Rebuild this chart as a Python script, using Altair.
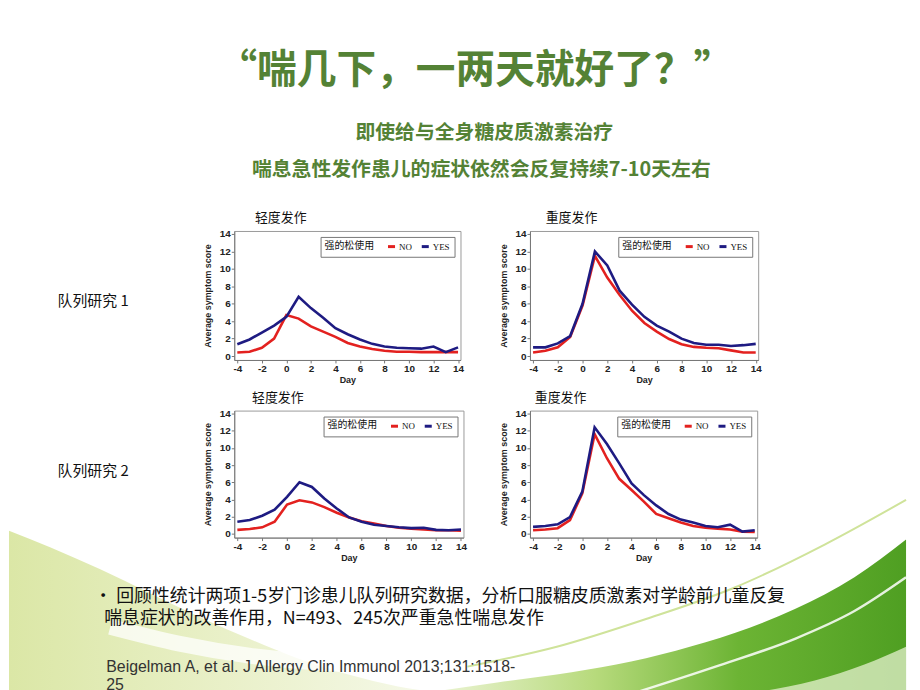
import altair as alt
import pandas as pd

days = list(range(-4, 15))

# cohort 1, mild exacerbation
c1_mild_no = [0.4, 0.5, 0.95, 2.0, 4.7, 4.3, 3.4, 2.8, 2.2, 1.5, 1.1, 0.8, 0.6, 0.5, 0.5, 0.45, 0.45, 0.45, 0.45]
c1_mild_yes = [1.35, 1.9, 2.7, 3.5, 4.5, 6.8, 5.5, 4.4, 3.2, 2.5, 1.9, 1.4, 1.1, 0.95, 0.9, 0.85, 1.1, 0.45, 1.0]
# cohort 1, severe exacerbation
c1_sev_no = [0.4, 0.6, 1.0, 2.2, 5.8, 11.5, 9.0, 7.0, 5.2, 3.8, 2.8, 1.95, 1.35, 1.05, 0.95, 0.9, 0.65, 0.4, 0.4]
c1_sev_yes = [1.0, 1.0, 1.45, 2.3, 6.0, 12.0, 10.4, 7.5, 5.9, 4.5, 3.5, 2.8, 2.0, 1.5, 1.3, 1.3, 1.15, 1.25, 1.4]
# cohort 2, mild exacerbation
c2_mild_no = [0.45, 0.55, 0.75, 1.4, 3.4, 3.9, 3.65, 3.1, 2.45, 1.9, 1.45, 1.2, 0.9, 0.7, 0.6, 0.5, 0.4, 0.4, 0.35]
c2_mild_yes = [1.4, 1.6, 2.1, 2.8, 4.3, 6.0, 5.45, 4.1, 2.95, 1.9, 1.4, 1.05, 0.9, 0.75, 0.65, 0.7, 0.45, 0.4, 0.5]
# cohort 2, severe exacerbation
c2_sev_no = [0.4, 0.5, 0.65, 1.6, 4.7, 11.6, 8.8, 6.4, 5.1, 3.75, 2.3, 1.8, 1.3, 0.9, 0.7, 0.6, 0.5, 0.25, 0.2]
c2_sev_yes = [0.8, 0.9, 1.1, 1.95, 4.9, 12.4, 10.45, 8.2, 5.85, 4.5, 3.3, 2.3, 1.65, 1.3, 0.9, 0.75, 1.05, 0.25, 0.4]

groups = ["NO", "YES"]
legend_title = "强的松使用"
x_ticks = list(range(-4, 15, 2))
y_ticks = list(range(0, 15, 2))

title_text = "“喘几下，一两天就好了？”"
subtitle_1 = "即使给与全身糖皮质激素治疗"
subtitle_2 = "喘息急性发作患儿的症状依然会反复持续7-10天左右"
cohort_labels = ["队列研究 1", "队列研究 2"]
panel_titles = ["轻度发作", "重度发作"]
footer_1 = "•  回顾性统计两项1-5岁门诊患儿队列研究数据，分析口服糖皮质激素对学龄前儿童反复"
footer_2 = "喘息症状的改善作用，N=493、245次严重急性喘息发作"
ref_1 = "Beigelman A, et al. J Allergy Clin Immunol 2013;131:1518-"
ref_2 = "25"

# decorative slide background swooshes (slide pixel outline, not data)
deco_left_x = [8, 50, 100, 150, 200, 250, 300, 350, 400, 440]
deco_left_top = [531, 548, 570, 594, 618, 640, 660, 676, 688, 694]
deco_white_x = [110, 180, 250, 320, 390, 460, 530]
deco_white_y = [628, 645, 657, 664, 668, 670, 672]
deco_right_x = [430, 500, 560, 620, 680, 740, 800, 860, 912]
deco_right_top = [694, 684, 676, 666, 652, 634, 610, 578, 540]
deco_pale_x = [760, 820, 870, 912]
deco_pale_top = [694, 682, 666, 648]
deco_streak_x = [640, 720, 800, 860, 912]
deco_streak_y = [694, 668, 640, 612, 578]
deco_thin_x = [470, 560, 650, 740, 830, 912]
deco_thin_y = [668, 648, 620, 588, 545, 500]
SLIDE_BOTTOM = 694

GREEN = "#548235"
RED = "#e3211f"
BLUE = "#1e1b82"
CJK = "Noto Sans CJK SC"
NOSTROKE = alt.ViewBackground(stroke="transparent")

# label2 cell origin in slide pixels
OX, OY = 8, 410


def panel(no, yes, title, dx, w, h):
    df = pd.DataFrame({
        "Day": days * 2,
        "score": no + yes,
        "grp": [groups[0]] * len(days) + [groups[1]] * len(days),
    })
    return alt.Chart(
        df,
        title=alt.TitleParams(title, anchor="start", dx=dx, fontSize=13, font=CJK,
                              fontWeight="normal", color="#111", offset=4),
    ).mark_line(strokeWidth=2.6).encode(
        x=alt.X("Day:Q", scale=alt.Scale(domain=[-4.25, 14.2], nice=False, zero=False),
                axis=alt.Axis(values=x_ticks, title="Day", labelExpr="'' + datum.value")),
        y=alt.Y("score:Q", scale=alt.Scale(domain=[-0.45, 14.35], nice=False),
                axis=alt.Axis(values=y_ticks, title="Average symptom score",
                              labelExpr="'' + datum.value")),
        color=alt.Color("grp:N", scale=alt.Scale(domain=groups, range=[RED, BLUE]),
                        legend=alt.Legend(
                            title=legend_title, orient="top-right", offset=6,
                            direction="horizontal", titleOrient="left",
                            titleFont=CJK, titleFontWeight="normal", titleFontSize=10,
                            titleColor="#111", titlePadding=12, titleAnchor="start",
                            labelFont="Liberation Serif", labelFontSize=9, labelColor="#111",
                            labelOffset=2, columnPadding=3,
                            symbolType="stroke", symbolStrokeWidth=3, symbolSize=50,
                            strokeColor="#777", fillColor="white", padding=4,
                        )),
    ).properties(width=w, height=h, view=alt.ViewBackground(stroke="#9a9a9a"))


def text_layers(rows):
    out = []
    for r in rows:
        out.append(
            alt.Chart(pd.DataFrame({"t": [r["t"]]})).mark_text(
                align=r["align"], baseline="middle", font=r["font"], fontSize=r["size"],
                fontWeight=r["weight"], color=r["color"],
            ).encode(x=alt.value(r["x"]), y=alt.value(r["y"]), text="t:N")
        )
    return out


def deco_area(xs, tops, fill, opacity=1.0):
    df = pd.DataFrame({
        "x": [v - OX for v in xs],
        "y": [v - OY for v in tops],
        "y0": [SLIDE_BOTTOM - OY] * len(xs),
    })
    return alt.Chart(df).mark_area(color=fill, opacity=opacity, interpolate="monotone").encode(
        x=alt.X("x:Q", scale=None, axis=None),
        y=alt.Y("y:Q", scale=None, axis=None),
        y2=alt.Y2("y0:Q"),
    )


def deco_line(xs, ys, color, width, opacity=1.0):
    df = pd.DataFrame({"x": [v - OX for v in xs], "y": [v - OY for v in ys]})
    return alt.Chart(df).mark_line(color=color, strokeWidth=width, opacity=opacity,
                                   interpolate="monotone").encode(
        x=alt.X("x:Q", scale=None, axis=None),
        y=alt.Y("y:Q", scale=None, axis=None),
    )


left_grad = alt.Gradient(gradient="linear", x1=0, x2=1, y1=0, y2=0, stops=[
    alt.GradientStop(color="#dbe7a6", offset=0),
    alt.GradientStop(color="#e9f0c8", offset=0.5),
    alt.GradientStop(color="#f6f9ea", offset=1),
])
right_grad = alt.Gradient(gradient="linear", x1=0, x2=1, y1=0, y2=0, stops=[
    alt.GradientStop(color="#eef5d8", offset=0),
    alt.GradientStop(color="#b7da7c", offset=0.35),
    alt.GradientStop(color="#6cb434", offset=0.65),
    alt.GradientStop(color="#4f9f22", offset=1),
])

# label cell for row 1 (origin at slide (8, 229)); also carries the slide header
anchor = alt.Chart(pd.DataFrame({"a": [0]})).mark_rule(color="white", strokeWidth=1).encode(
    x=alt.value(1), y=alt.value(-221), y2=alt.value(-220)
)
label1 = alt.layer(anchor, *text_layers([
    dict(t=title_text, x=470, y=-161, size=40, weight="bold", color=GREEN, font=CJK, align="center"),
    dict(t=subtitle_1, x=479, y=-99, size=20, weight="bold", color=GREEN, font=CJK, align="center"),
    dict(t=subtitle_2, x=476, y=-61, size=20, weight="bold", color=GREEN, font=CJK, align="center"),
    dict(t=cohort_labels[0], x=49, y=71, size=15, weight="normal", color="#111", font=CJK, align="left"),
])).properties(width=152, height=130, view=NOSTROKE)

# label cell for row 2 (origin at slide (8, 410)); also carries footer and background
label2 = alt.layer(
    deco_area(deco_left_x, deco_left_top, left_grad),
    deco_line(deco_white_x, deco_white_y, "white", 16, 0.75),
    deco_area(deco_right_x, deco_right_top, right_grad),
    deco_area(deco_pale_x, deco_pale_top, "#e6f2cf", 0.75),
    deco_line(deco_streak_x, deco_streak_y, "white", 2.5, 0.85),
    deco_line(deco_thin_x, deco_thin_y, "#cfe39a", 2, 1.0),
    *text_layers([
        dict(t=cohort_labels[1], x=49, y=61, size=15, weight="normal", color="#111", font=CJK, align="left"),
        dict(t=footer_1, x=86, y=188, size=18, weight="normal", color="#111", font=CJK, align="left"),
        dict(t=footer_2, x=96, y=210, size=18, weight="normal", color="#111", font=CJK, align="left"),
        dict(t=ref_1, x=98, y=258, size=16, weight="normal", color="#333", font="Liberation Sans", align="left"),
        dict(t=ref_2, x=98, y=277, size=16, weight="normal", color="#333", font="Liberation Sans", align="left"),
    ])
).properties(width=160, height=128, view=NOSTROKE)

p1 = panel(c1_mild_no, c1_mild_yes, panel_titles[0], 52, 228, 130)
p2 = panel(c1_sev_no, c1_sev_yes, panel_titles[1], 47, 230, 130)
p3 = panel(c2_mild_no, c2_mild_yes, panel_titles[0], 49, 231, 128)
p4 = panel(c2_sev_no, c2_sev_yes, panel_titles[1], 36, 229, 128)

chart = alt.concat(
    label1, p1, p2, label2, p3, p4,
    columns=3,
    spacing=alt.RowColnumber(row=51, column=67),
    align=alt.RowColLayoutAlign(row="all", column="none"),
    bounds="flush",
).resolve_scale(color="independent").resolve_legend(color="independent").properties(
    padding=0, background="white"
).configure_axis(
    grid=False, labelFont="Liberation Sans", labelFontWeight="bold", labelFontSize=10,
    labelColor="#222", tickColor="#777", domainColor="#777", tickSize=3,
    titleFont="Liberation Sans", titleFontWeight="bold", titleFontSize=9, titleColor="#222",
    labelPadding=1,
).configure_axisY(titlePadding=7).configure_axisX(titlePadding=2)

chart.save("out.html", embed_options={"renderer": "svg", "actions": False})
